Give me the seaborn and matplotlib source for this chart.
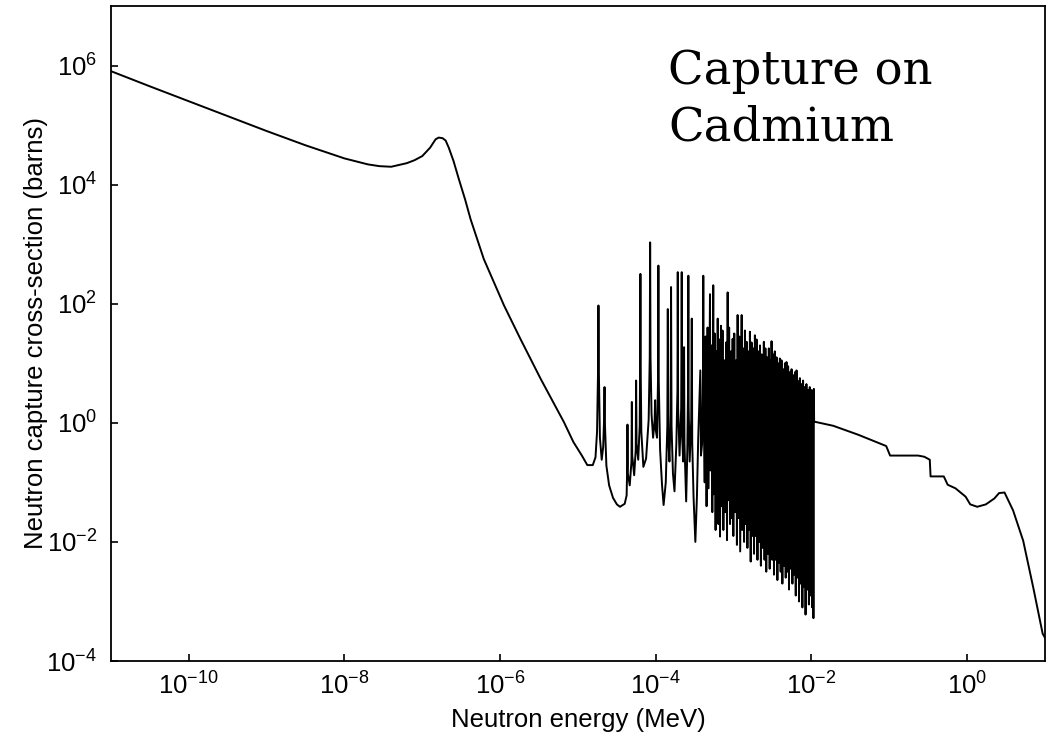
import numpy as np
import pandas as pd
import matplotlib
matplotlib.use("Agg")
import matplotlib.pyplot as plt
import seaborn as sns
from matplotlib.ticker import FixedLocator, NullLocator, LogFormatterSciNotation

# ---------------- data (log10 energy [MeV], log10 cross-section [barns]) ----------------
thermal_log_e = [-11.0, -10.5, -10.0, -9.5, -9.0, -8.5, -8.0, -7.85, -7.7, -7.55, -7.4,
                 -7.2, -7.1, -7.0, -6.95, -6.9, -6.83, -6.79, -6.74, -6.70, -6.66, -6.60,
                 -6.53, -6.45, -6.38, -6.21, -5.95, -5.74, -5.48, -5.18, -5.06, -4.95,
                 -4.88, -4.81]
thermal_log_s = [5.905, 5.65, 5.40, 5.15, 4.90, 4.66, 4.44, 4.39, 4.34, 4.31, 4.30,
                 4.36, 4.41, 4.48, 4.55, 4.62, 4.76, 4.79, 4.78, 4.74, 4.62, 4.40,
                 4.09, 3.75, 3.42, 2.75, 1.97, 1.41, 0.74, 0.01, -0.32, -0.55,
                 -0.71, -0.71]

isolated_resonances = [
    (-4.775, -0.58), (-4.755, -0.15), (-4.742, 0.90), (-4.737, 1.97), (-4.731, 0.80),
    (-4.718, -0.25), (-4.695, -0.62), (-4.676, -0.40), (-4.665, 0.05), (-4.659, 0.60),
    (-4.653, -0.05), (-4.635, -0.72), (-4.60, -1.05), (-4.55, -1.26), (-4.50, -1.37),
    (-4.46, -1.41), (-4.40, -1.36), (-4.375, -1.22), (-4.367, -0.70), (-4.364, -0.03),
    (-4.360, -0.85), (-4.335, -1.05), (-4.313, -0.65), (-4.308, 0.35), (-4.303, -0.55),
    (-4.278, -0.88), (-4.258, -0.45), (-4.253, 0.71), (-4.247, -0.35), (-4.226, -0.62),
    (-4.207, -0.05), (-4.201, 1.10), (-4.198, 2.50), (-4.195, 1.00), (-4.186, -0.15),
    (-4.160, -0.74), (-4.125, -0.60), (-4.092, 0.05), (-4.078, 1.10), (-4.073, 3.03),
    (-4.068, 1.10), (-4.055, 0.15), (-4.035, -0.25), (-4.015, 0.05), (-4.009, 0.38),
    (-4.003, -0.10), (-3.985, -0.25), (-3.972, 0.70), (-3.967, 2.64), (-3.962, 0.70),
    (-3.945, -0.45), (-3.920, -1.05), (-3.900, -1.38), (-3.872, -1.00), (-3.852, -0.05),
    (-3.846, 1.91), (-3.840, -0.25), (-3.825, -0.65), (-3.810, 0.15), (-3.804, 2.28),
    (-3.798, -0.05), (-3.780, -0.85), (-3.760, -1.15), (-3.736, -0.35), (-3.722, 0.55),
    (-3.718, 2.53), (-3.713, 0.25), (-3.695, -0.55), (-3.674, 0.25), (-3.667, 2.53),
    (-3.661, -0.25), (-3.648, -0.65), (-3.641, 0.25), (-3.637, 1.27), (-3.632, -0.35),
    (-3.610, -1.32), (-3.595, -0.45), (-3.586, 0.55), (-3.582, 2.47), (-3.578, 0.25),
    (-3.565, -0.65), (-3.545, 0.05), (-3.538, 1.75), (-3.532, -0.35), (-3.515, -1.25),
    (-3.492, -2.00), (-3.472, -1.25), (-3.455, -0.25), (-3.440, 0.35), (-3.428, 0.88),
    (-3.420, -0.55), (-3.405, -0.35), (-3.394, 0.80), (-3.390, 2.47), (-3.386, 0.40),
]

dense_resonances = [
    (-3.372, -1.00), (-3.360, 1.45), (-3.348, -1.40), (-3.335, 1.60), (-3.322, -1.10),
    (-3.304, 2.16), (-3.298, -0.80), (-3.285, 1.30), (-3.274, -1.50), (-3.262, 2.31),
    (-3.256, -1.20), (-3.244, 1.50), (-3.232, -1.80), (-3.220, 1.20), (-3.210, -1.30),
    (-3.205, 1.75), (-3.196, -1.70), (-3.185, 1.40), (-3.175, -1.91), (-3.163, 1.63),
    (-3.155, -1.40), (-3.143, 1.55), (-3.132, -1.80), (-3.120, 1.05), (-3.108, -1.50),
    (-3.096, 1.35), (-3.085, -1.97), (-3.077, 2.19), (-3.070, -1.30), (-3.058, 1.60),
    (-3.046, -1.70), (-3.034, 1.20), (-3.022, -1.60), (-3.013, 1.41), (-3.004, -1.90),
    (-2.992, 1.50), (-2.980, -1.50), (-2.968, 1.05), (-2.958, -2.05), (-2.949, 1.81),
    (-2.940, -1.60), (-2.928, 1.45), (-2.916, -2.16), (-2.897, 1.81), (-2.890, -1.80),
    (-2.878, 1.25), (-2.866, -2.00), (-2.855, 1.55), (-2.844, -1.70), (-2.833, 1.36),
    (-2.823, -2.10), (-2.812, 1.20), (-2.801, -1.80), (-2.791, 1.53), (-2.781, -2.33),
    (-2.770, 1.35), (-2.759, -1.90), (-2.748, 1.25), (-2.738, -2.20), (-2.727, 1.47),
    (-2.716, -1.90), (-2.705, 1.40), (-2.694, -2.30), (-2.683, 1.20), (-2.672, -2.00),
    (-2.661, 1.30), (-2.650, -2.40), (-2.639, 1.15), (-2.628, -2.10), (-2.612, 1.36),
    (-2.603, -2.30), (-2.592, 1.25), (-2.581, -2.50), (-2.570, 1.10), (-2.559, -2.20),
    (-2.548, 1.25), (-2.537, -2.45), (-2.526, 1.05), (-2.519, -2.10), (-2.513, 1.37),
    (-2.504, -2.30), (-2.493, 1.15), (-2.482, -2.55), (-2.471, 1.20), (-2.460, -2.30),
    (-2.449, 1.10), (-2.438, -2.64), (-2.427, 1.00), (-2.416, -2.35), (-2.406, 1.08),
    (-2.396, -2.50), (-2.385, 1.05), (-2.374, -2.70), (-2.363, 0.90), (-2.352, -2.40),
    (-2.341, 1.00), (-2.331, -2.60), (-2.321, 1.02), (-2.311, -2.50), (-2.300, 0.95),
    (-2.289, -2.80), (-2.278, 0.85), (-2.267, -2.45), (-2.256, 0.90), (-2.245, -2.70),
    (-2.234, 0.80), (-2.223, -2.55), (-2.212, 0.85), (-2.202, -2.90), (-2.192, 0.88),
    (-2.182, -2.60), (-2.171, 0.70), (-2.160, -3.00), (-2.149, 0.75), (-2.138, -2.70),
    (-2.127, 0.65), (-2.117, -3.10), (-2.108, 0.71), (-2.098, -2.75), (-2.087, 0.60),
    (-2.076, -3.22), (-2.065, 0.65), (-2.054, -2.80), (-2.043, 0.55), (-2.033, -3.05),
    (-2.022, 0.60), (-2.011, -2.90), (-2.000, 0.55), (-1.990, -3.10), (-1.980, 0.50),
    (-1.975, -3.28), (-1.970, 0.57),
]

fast_log_e = [-1.966, -1.72, -1.40, -1.04, -0.99, -0.63, -0.55, -0.48, -0.47, -0.30,
              -0.25, -0.15, -0.02, 0.04, 0.13, 0.24, 0.35, 0.41, 0.48, 0.59, 0.72, 0.85,
              0.97, 1.00]
fast_log_s = [0.02, -0.05, -0.20, -0.39, -0.55, -0.55, -0.57, -0.62, -0.90, -0.90,
              -1.04, -1.10, -1.24, -1.37, -1.41, -1.37, -1.27, -1.18, -1.17, -1.47,
              -1.98, -2.77, -3.54, -3.61]

x_ticks = [1e-10, 1e-8, 1e-6, 1e-4, 1e-2, 1e0]
y_ticks = [1e-4, 1e-2, 1e0, 1e2, 1e4, 1e6]

# ---------------- assemble ----------------
log_e = (thermal_log_e + [p[0] for p in isolated_resonances]
         + [p[0] for p in dense_resonances] + fast_log_e)
log_s = (thermal_log_s + [p[1] for p in isolated_resonances]
         + [p[1] for p in dense_resonances] + fast_log_s)
df = pd.DataFrame({"energy": np.power(10.0, log_e), "sigma": np.power(10.0, log_s)})

sns.set_theme(style="white")
plt.rcParams["font.family"] = ["Liberation Sans", "DejaVu Sans"]
plt.rcParams["mathtext.fontset"] = "custom"
plt.rcParams["mathtext.rm"] = "Liberation Sans"
plt.rcParams["mathtext.it"] = "Liberation Sans:italic"
plt.rcParams["mathtext.bf"] = "Liberation Sans:bold"
plt.rcParams["axes.unicode_minus"] = False

fig = plt.figure(figsize=(10.61, 7.37), dpi=100)
ax = fig.add_axes([0.1046, 0.1031, 0.8803, 0.8888])
ax.set_xscale("log")
ax.set_yscale("log")
sns.lineplot(data=df, x="energy", y="sigma", sort=False, estimator=None,
             color="black", lw=1.4, ax=ax)

ax.set_xlim(1e-11, 10)
ax.set_ylim(1e-4, 1e7)
ax.xaxis.set_major_locator(FixedLocator(x_ticks))
ax.yaxis.set_major_locator(FixedLocator(y_ticks))
ax.xaxis.set_major_formatter(LogFormatterSciNotation())
ax.yaxis.set_major_formatter(LogFormatterSciNotation())
ax.xaxis.set_minor_locator(NullLocator())
ax.yaxis.set_minor_locator(NullLocator())

for s in ax.spines.values():
    s.set_color("black")
    s.set_linewidth(1.3)
ax.tick_params(axis="both", which="major", direction="in", length=5, width=1.2,
               colors="black", labelsize=18.5, bottom=True, left=True, top=False, right=False)
ax.tick_params(axis="x", pad=8)
ax.tick_params(axis="y", pad=10)

ax.set_xlabel("Neutron energy (MeV)", fontsize=18.5, color="black")
ax.set_ylabel("Neutron capture cross-section (barns)", fontsize=18.5, color="black")
ax.xaxis.set_label_coords(0.5, -0.072)
ax.yaxis.set_label_coords(-0.0675, 0.5)

fig.text(0.6296, 0.8100, "Capture on\nCadmium", fontsize=33.5, family="DejaVu Serif",
         ha="left", va="baseline", color="black", linespacing=1.30)

fig.savefig("out.png", dpi=100)
